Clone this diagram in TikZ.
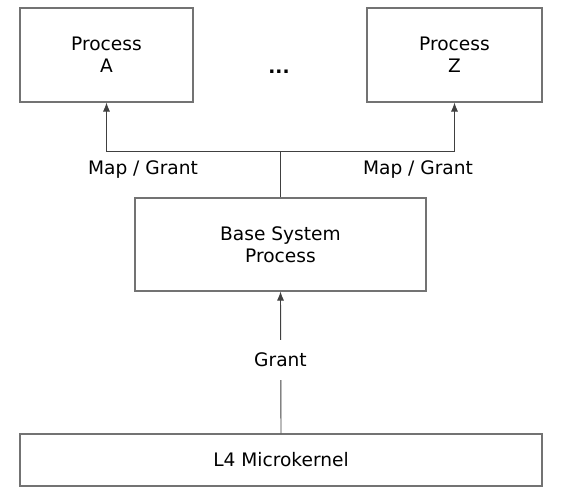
\documentclass[tikz,border=0pt]{standalone}
\usepackage{fontspec}
\setmainfont{DejaVu Sans}
\usetikzlibrary{arrows.meta}
\begin{document}
\begin{tikzpicture}[x=1pt,y=-1pt,
  box/.style={draw=black!55,line width=1.1pt,fill=white,align=center,inner sep=0pt,font=\fontsize{18.6}{22}\selectfont},
  lbl/.style={font=\fontsize{18.6}{22}\selectfont,inner sep=0pt},
  conn/.style={draw=black!75,line width=0.9pt},
  arr/.style={conn,-{Latex[length=9pt,width=7pt]}}]
\useasboundingbox (0,0) rectangle (565,495);
\fill[white] (0,0) rectangle (565,495);
\node[box,minimum width=173pt,minimum height=94pt] (A) at (106.5,55) {Process\\A};
\node[box,minimum width=175pt,minimum height=94pt] (Z) at (454.5,55) {Process\\Z};
\node[lbl,font=\fontsize{18.6}{22}\bfseries] (dots) at (279,72) {...};
\node[box,minimum width=291pt,minimum height=93pt] (base) at (280.5,244.5) {Base System\\Process};
\node[box,minimum width=522pt,minimum height=52pt] (kern) at (281,460) {L4 Microkernel};
\coordinate (j) at (280.5,151);
\draw[conn] (base.north) -- (j);
\draw[arr] (j) -| (A.south);
\draw[arr] (j) -| (Z.south);
\node[lbl] (mgA) at (143,170) {Map / Grant};
\node[lbl] (mgZ) at (418,170) {Map / Grant};
\draw[arr] (kern.north) -- (base.south);
\node[lbl,fill=white,minimum width=180pt,minimum height=40pt] (grant) at (280.5,360) {Grant};
\end{tikzpicture}
\end{document}
